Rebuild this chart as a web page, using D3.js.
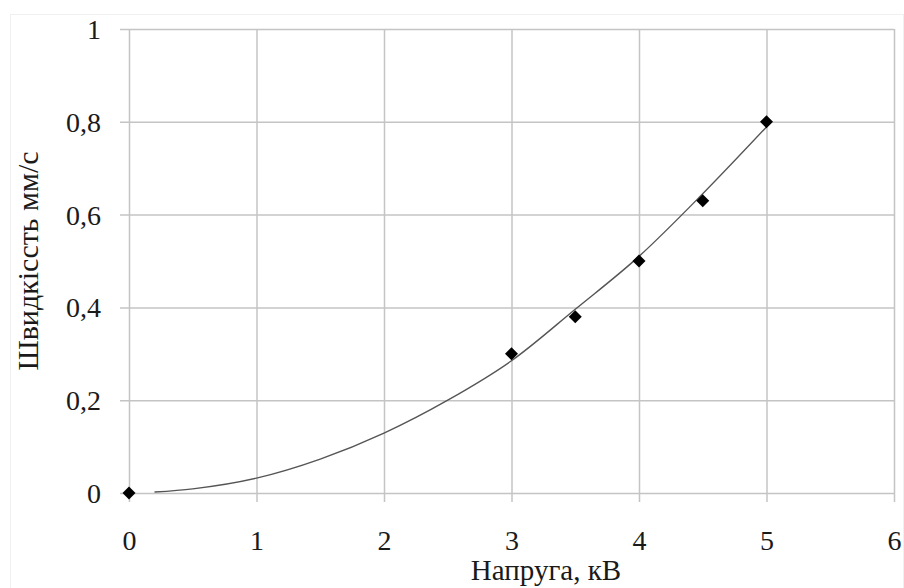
<!DOCTYPE html>
<html>
<head>
<meta charset="utf-8">
<script src="https://cdn.jsdelivr.net/npm/d3@7"></script>
<style>
  body { margin: 0; background: #fff; }
  svg text { font-family: "Liberation Serif", "DejaVu Serif", "Times New Roman", Times, serif; fill: #1a1a1a; }
</style>
</head>
<body>
<svg id="chart" width="904" height="588"></svg>
<script>
// measured points
const voltage = [0, 3, 3.5, 4, 4.5, 5];
const speed = [0, 0.3, 0.38, 0.5, 0.63, 0.8];

// trend line
const trendX = [0.2, 0.5, 1, 1.5, 2, 2.5, 3, 3.5, 4, 4.5, 5];
const trendY = [0.002, 0.009, 0.032, 0.073, 0.129, 0.2, 0.285, 0.396, 0.51, 0.645, 0.789];

const xTicks = [0, 1, 2, 3, 4, 5, 6];
const yTicks = [0, 0.2, 0.4, 0.6, 0.8, 1];

const xTitle = 'Напруга, кВ';
const yTitle = 'Швидкіссть мм/с';

const serif = '"Liberation Serif", "DejaVu Serif", "Times New Roman", Times, serif';

const svg = d3.select('#chart');
const plotLeft = 129, plotRight = 894, plotTop = 29, plotBottom = 493;

const x = d3.scaleLinear().domain([0, 6]).range([plotLeft, plotRight]);
const y = d3.scaleLinear().domain([0, 1]).range([plotBottom, plotTop]);

const fmt = v => String(v).replace('.', ',');
const gridColor = '#c4c4c4';

// chart border (very faint)
svg.append('rect')
  .attr('x', 10.5).attr('y', 14.5)
  .attr('width', 893).attr('height', 580)
  .attr('fill', 'none')
  .attr('stroke', '#f0f0f0');

// x axis with gridlines
const gx = svg.append('g')
  .attr('transform', `translate(0,${plotBottom})`)
  .call(d3.axisBottom(x).tickValues(xTicks).tickSize(-(plotBottom - plotTop)).tickFormat(fmt).tickPadding(0));
gx.attr('font-family', serif);
gx.select('.domain').remove();
gx.selectAll('.tick line').attr('stroke', gridColor).attr('stroke-width', 1.5).attr('y1', 9).attr('y2', plotTop - plotBottom);
gx.selectAll('.tick text')
  .attr('font-size', 28).attr('dy', 0).attr('y', 57)
  .style('font-family', serif);

// y axis with gridlines
const gy = svg.append('g')
  .attr('transform', `translate(${plotLeft},0)`)
  .call(d3.axisLeft(y).tickValues(yTicks).tickSize(-(plotRight - plotLeft)).tickFormat(fmt));
gy.attr('font-family', serif);
gy.select('.domain').remove();
gy.selectAll('.tick line').attr('stroke', gridColor).attr('stroke-width', 1.5).attr('x1', -9);
gy.selectAll('.tick text')
  .attr('font-size', 28).attr('x', -28).attr('dy', '0.34em')
  .style('font-family', serif);

// trend curve
const line = d3.line()
  .x((d, i) => x(trendX[i]))
  .y(d => y(d))
  .curve(d3.curveMonotoneX);
svg.append('path')
  .datum(trendY)
  .attr('d', line)
  .attr('fill', 'none')
  .attr('stroke', '#555')
  .attr('stroke-width', 1.4);

// diamond markers
const diamond = d3.symbol().type(d3.symbolSquare).size(85);
svg.append('g')
  .selectAll('path')
  .data(speed)
  .join('path')
  .attr('d', diamond)
  .attr('transform', (d, i) => `translate(${x(voltage[i])},${y(d)}) rotate(45)`)
  .attr('fill', '#000');

// axis titles
svg.append('text')
  .attr('x', 546).attr('y', 580)
  .attr('text-anchor', 'middle')
  .attr('font-size', 29)
  .style('font-family', serif)
  .text(xTitle);

svg.append('text')
  .attr('transform', `translate(38,${(plotTop + plotBottom) / 2}) rotate(-90)`)
  .attr('text-anchor', 'middle')
  .attr('font-size', 30)
  .style('font-family', serif)
  .text(yTitle);
</script>
</body>
</html>
